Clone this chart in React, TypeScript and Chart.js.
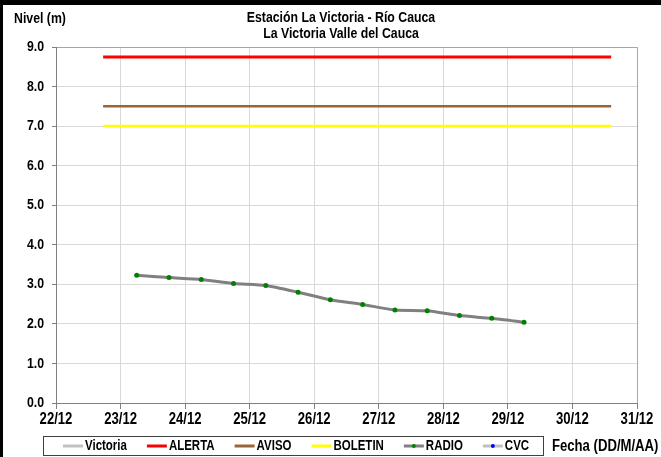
import React, { useEffect, useRef } from 'react';
import { Chart, registerables } from 'chart.js';

Chart.register(...registerables);

// ---- data ----
const dayLabels = ['22/12', '23/12', '24/12', '25/12', '26/12', '27/12', '28/12', '29/12', '30/12', '31/12'];
const levelTicks = [0, 1, 2, 3, 4, 5, 6, 7, 8, 9];
// days counted from 22/12 00:00
const radioDays = [1.25, 1.75, 2.25, 2.75, 3.25, 3.75, 4.25, 4.75, 5.25, 5.75, 6.25, 6.75, 7.25];
const radioLevels = [3.23, 3.17, 3.12, 3.02, 2.97, 2.8, 2.61, 2.49, 2.35, 2.33, 2.21, 2.14, 2.04];
const victoriaDays: number[] = [];
const victoriaLevels: number[] = [];
const cvcDays: number[] = [];
const cvcLevels: number[] = [];
const thresholdDays = [0.73, 8.6];
const alertaLevels = [8.75, 8.75];
const avisoLevels = [7.5, 7.5];
const boletinLevels = [7.0, 7.0];
const titleLines = ['Estación La Victoria - Río Cauca', 'La Victoria Valle del Cauca'];
const yAxisTitle = 'Nivel (m)';
const xAxisTitle = 'Fecha (DD/M/AA)';

const FONT = "'Liberation Sans', Arial, sans-serif";
const NARROW = 0.82;

const toPoints = (xs: number[], ys: number[]) => xs.map((x, i) => ({ x, y: ys[i] }));

const legendItems = [
  { label: 'Victoria', color: '#c0c0c0', marker: '' },
  { label: 'ALERTA', color: '#ff0000', marker: '' },
  { label: 'AVISO', color: '#996633', marker: '' },
  { label: 'BOLETIN', color: '#ffff00', marker: '' },
  { label: 'RADIO', color: '#808080', marker: '#008000' },
  { label: 'CVC', color: '#c0c0c0', marker: '#0000ff' },
];

function narrowText(ctx: CanvasRenderingContext2D, text: string, x: number, y: number, size: number, align: 'left' | 'center' | 'right') {
  ctx.save();
  ctx.font = `bold ${size}px ${FONT}`;
  ctx.textBaseline = 'middle';
  ctx.textAlign = align;
  ctx.fillStyle = '#000';
  ctx.translate(x, y);
  ctx.scale(NARROW, 1);
  ctx.fillText(text, 0, 0);
  const w = ctx.measureText(text).width * NARROW;
  ctx.restore();
  return w;
}

const decorPlugin = {
  id: 'decor',
  afterDraw(chart: any) {
    const ctx = chart.ctx as CanvasRenderingContext2D;
    const xs = chart.scales.x;
    const ys = chart.scales.y;
    ctx.save();
    // frame
    ctx.fillStyle = '#000';
    ctx.fillRect(0, 0, 661, 5);
    ctx.fillRect(0, 0, 3, 457);
    // titles
    narrowText(ctx, titleLines[0], 341, 18, 15, 'center');
    narrowText(ctx, titleLines[1], 341, 34, 15, 'center');
    narrowText(ctx, yAxisTitle, 14, 19, 15, 'left');
    narrowText(ctx, xAxisTitle, 552, 447, 16, 'left');
    // tick labels via the scales
    dayLabels.forEach((lab, i) => {
      narrowText(ctx, lab, xs.getPixelForValue(i), 420, 16, 'center');
    });
    levelTicks.forEach((v) => {
      narrowText(ctx, v.toFixed(1), 44, ys.getPixelForValue(v), 15, 'right');
    });
    // legend box
    ctx.strokeStyle = '#404040';
    ctx.lineWidth = 1;
    ctx.strokeRect(43.5, 436.5, 500, 19);
    let x = 63;
    const ly = 446;
    legendItems.forEach((it) => {
      ctx.strokeStyle = it.color;
      ctx.lineWidth = 3;
      ctx.beginPath();
      ctx.moveTo(x, ly);
      ctx.lineTo(x + 20, ly);
      ctx.stroke();
      if (it.marker) {
        ctx.fillStyle = it.marker;
        ctx.beginPath();
        ctx.arc(x + 10, ly, 2, 0, Math.PI * 2);
        ctx.fill();
      }
      const w = narrowText(ctx, it.label, x + 22, ly, 14, 'left');
      x += 22 + w + 20;
    });
    ctx.restore();
  },
};

export default function App() {
  const ref = useRef<HTMLCanvasElement>(null);
  useEffect(() => {
    if (!ref.current) return;
    const chart = new Chart(ref.current, {
      type: 'line',
      data: {
        datasets: [
          { label: 'Victoria', data: toPoints(victoriaDays, victoriaLevels), borderColor: '#c0c0c0', borderWidth: 3, pointRadius: 0 },
          { label: 'ALERTA', data: toPoints(thresholdDays, alertaLevels), borderColor: '#ff0000', borderWidth: 3, pointRadius: 0 },
          { label: 'AVISO', data: toPoints(thresholdDays, avisoLevels), borderColor: '#996633', borderWidth: 2.5, pointRadius: 0 },
          { label: 'BOLETIN', data: toPoints(thresholdDays, boletinLevels), borderColor: '#ffff00', borderWidth: 2.5, pointRadius: 0 },
          {
            label: 'RADIO', data: toPoints(radioDays, radioLevels), borderColor: '#808080', borderWidth: 3,
            pointRadius: 2.5, pointBackgroundColor: '#008000', pointBorderColor: '#008000', pointBorderWidth: 0, tension: 0.2,
          },
          { label: 'CVC', data: toPoints(cvcDays, cvcLevels), borderColor: '#c0c0c0', borderWidth: 2, pointRadius: 2, pointBackgroundColor: '#0000ff' },
        ],
      },
      options: {
        animation: false,
        responsive: false,
        devicePixelRatio: 1,
        layout: { padding: { top: 47, right: 24, bottom: 24, left: 0 } },
        plugins: { legend: { display: false }, title: { display: false }, tooltip: { enabled: false } },
        scales: {
          x: {
            type: 'linear', min: 0, max: 9,
            afterFit: (s: any) => { s.height = 30; },
            ticks: { stepSize: 1, autoSkip: false, maxRotation: 0, display: false },
            grid: {
              color: (c: any) => (c.tick && c.tick.value === 9 ? '#a6a6a6' : '#d9d9d9'),
              tickColor: '#808080', tickLength: 6, lineWidth: 1, drawTicks: true,
            },
            border: { color: '#808080', width: 1 },
          },
          y: {
            min: 0, max: 9,
            afterFit: (s: any) => { s.width = 56; },
            ticks: { stepSize: 1, display: false },
            grid: {
              color: (c: any) => (c.tick && c.tick.value === 9 ? '#a6a6a6' : '#d9d9d9'),
              tickColor: '#808080', tickLength: 4, lineWidth: 1, drawTicks: true,
            },
            border: { color: '#808080', width: 1 },
          },
        },
      },
      plugins: [decorPlugin],
    } as any);
    return () => chart.destroy();
  }, []);
  return (
    <div style={{ position: 'absolute', left: 0, top: 0, width: 661, height: 457, background: '#fff' }}>
      <canvas ref={ref} width={661} height={457} style={{ width: 661, height: 457, display: 'block' }} />
    </div>
  );
}
